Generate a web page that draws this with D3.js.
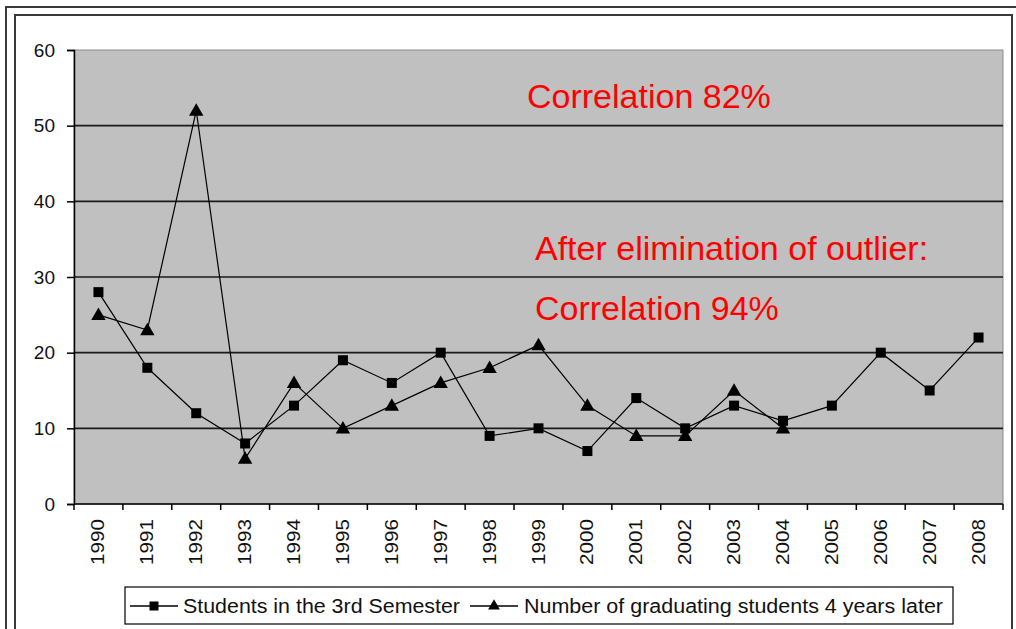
<!DOCTYPE html>
<html>
<head>
<meta charset="utf-8">
<script src="https://cdn.jsdelivr.net/npm/d3@7"></script>
<style>
  body { margin: 0; background: #fff; }
  svg { display: block; font-family: Arial, "Liberation Sans", sans-serif; }
</style>
</head>
<body>
<div id="chart"></div>
<script>
// Data
const years = ["1990", "1991", "1992", "1993", "1994", "1995", "1996", "1997", "1998", "1999",
  "2000", "2001", "2002", "2003", "2004", "2005", "2006", "2007", "2008"];
const students3rdSemester = [28, 18, 12, 8, 13, 19, 16, 20, 9, 10, 7, 14, 10, 13, 11, 13, 20, 15, 22];
const graduatesLater = [25, 23, 52, 6, 16, 10, 13, 16, 18, 21, 13, 9, 9, 15, 10];
const yTicks = [0, 10, 20, 30, 40, 50, 60];
const seriesNames = ["Students in the 3rd Semester", "Number of graduating students 4 years later"];
const notes = ["Correlation 82%", "After elimination of outlier:", "Correlation 94%"];

const width = 1016, height = 629;
const plot = { left: 74, right: 1003, top: 50, bottom: 504 };

const svg = d3.select("#chart")
  .append("svg")
  .attr("width", width)
  .attr("height", height);

// outer frame (double line)
svg.append("path")
  .attr("d", "M6,640 V7 H1030")
  .attr("fill", "none").attr("stroke", "#3a3a3a").attr("stroke-width", 2);
svg.append("path")
  .attr("d", "M15,640 V15 H1012 V640")
  .attr("fill", "none").attr("stroke", "#3a3a3a").attr("stroke-width", 2);

const x = d3.scaleBand().domain(years).range([plot.left, plot.right]).padding(0);
const y = d3.scaleLinear().domain([0, 60]).range([plot.bottom, plot.top]);
const cx = (d) => x(d) + x.bandwidth() / 2;

// plot area
svg.append("rect")
  .attr("x", plot.left).attr("y", plot.top)
  .attr("width", plot.right - plot.left).attr("height", plot.bottom - plot.top)
  .attr("fill", "#c0c0c0")
  .attr("stroke", "#8a8a8a").attr("stroke-width", 1);

// gridlines
svg.append("g")
  .selectAll("line")
  .data(yTicks.filter((d) => d > 0 && d < 60))
  .enter()
  .append("line")
  .attr("x1", plot.left).attr("x2", plot.right)
  .attr("y1", (d) => y(d)).attr("y2", (d) => y(d))
  .attr("stroke", "#1a1a1a").attr("stroke-width", 1.6);

// y axis
const yAxis = svg.append("g")
  .attr("transform", `translate(${plot.left},0)`)
  .call(d3.axisLeft(y).tickValues(yTicks).tickSize(7).tickPadding(12));
yAxis.select(".domain").attr("stroke", "#000").attr("stroke-width", 1.5);
yAxis.selectAll(".tick line").attr("stroke", "#000").attr("stroke-width", 1.5);
yAxis.selectAll("text")
  .attr("fill", "#111")
  .style("font-size", "19px")
  .style("font-family", "Arial, 'Liberation Sans', sans-serif");

// x axis with ticks at category boundaries
svg.append("line")
  .attr("x1", plot.left).attr("x2", plot.right)
  .attr("y1", plot.bottom).attr("y2", plot.bottom)
  .attr("stroke", "#000").attr("stroke-width", 1.5);
svg.append("g")
  .selectAll("line")
  .data(years.concat(["end"]))
  .enter()
  .append("line")
  .attr("x1", (d, i) => plot.left + i * x.bandwidth())
  .attr("x2", (d, i) => plot.left + i * x.bandwidth())
  .attr("y1", plot.bottom).attr("y2", plot.bottom + 6)
  .attr("stroke", "#000").attr("stroke-width", 1.5);
svg.append("g")
  .selectAll("text")
  .data(years)
  .enter()
  .append("text")
  .text((d) => d)
  .attr("transform", (d) => `translate(${cx(d) + 6},${plot.bottom + 15}) rotate(-90)`)
  .attr("text-anchor", "end")
  .attr("fill", "#111")
  .attr("textLength", 46)
  .attr("lengthAdjust", "spacingAndGlyphs")
  .style("font-size", "18px");

// series lines
const line = d3.line().x((d) => cx(d.year)).y((d) => y(d.value));
const s1 = years.map((yr, i) => ({ year: yr, value: students3rdSemester[i] }));
const s2 = graduatesLater.map((v, i) => ({ year: years[i], value: v }));

svg.append("path").datum(s1).attr("d", line)
  .attr("fill", "none").attr("stroke", "#000").attr("stroke-width", 1.2);
svg.append("path").datum(s2).attr("d", line)
  .attr("fill", "none").attr("stroke", "#000").attr("stroke-width", 1.2);

const sq = 10;
svg.append("g")
  .selectAll("rect")
  .data(s1)
  .enter()
  .append("rect")
  .attr("x", (d) => cx(d.year) - sq / 2)
  .attr("y", (d) => y(d.value) - sq / 2)
  .attr("width", sq).attr("height", sq)
  .attr("fill", "#000");

const tri = d3.symbol().type(d3.symbolTriangle).size(90);
svg.append("g")
  .selectAll("path")
  .data(s2)
  .enter()
  .append("path")
  .attr("d", tri)
  .attr("transform", (d) => `translate(${cx(d.year)},${y(d.value) + 1})`)
  .attr("fill", "#000");

// red annotations
const notePos = [
  { x: 527, y: 108 },
  { x: 535, y: 260 },
  { x: 535, y: 320 }
];
svg.append("g")
  .selectAll("text")
  .data(notes)
  .enter()
  .append("text")
  .text((d) => d)
  .attr("x", (d, i) => notePos[i].x)
  .attr("y", (d, i) => notePos[i].y)
  .attr("fill", "#ff0000")
  .style("font-size", "34px");

// legend
const legend = svg.append("g");
legend.append("rect")
  .attr("x", 125).attr("y", 587).attr("width", 828).attr("height", 37)
  .attr("fill", "#fff").attr("stroke", "#000").attr("stroke-width", 1.2);

const legendItems = [
  { name: seriesNames[0], lx: 130, tx: 183, tw: 277, marker: "square" },
  { name: seriesNames[1], lx: 470, tx: 524, tw: 419, marker: "triangle" }
];
const ly = 606;
legendItems.forEach((item) => {
  legend.append("line")
    .attr("x1", item.lx).attr("x2", item.lx + 48)
    .attr("y1", ly).attr("y2", ly)
    .attr("stroke", "#000").attr("stroke-width", 1.5);
  if (item.marker === "square") {
    legend.append("rect")
      .attr("x", item.lx + 24 - 4.5).attr("y", ly - 4.5)
      .attr("width", 9).attr("height", 9).attr("fill", "#000");
  } else {
    legend.append("path")
      .attr("d", d3.symbol().type(d3.symbolTriangle).size(60))
      .attr("transform", `translate(${item.lx + 24},${ly})`)
      .attr("fill", "#000");
  }
  legend.append("text")
    .text(item.name)
    .attr("x", item.tx).attr("y", ly + 7)
    .attr("fill", "#111")
    .attr("textLength", item.tw)
    .attr("lengthAdjust", "spacingAndGlyphs")
    .style("font-size", "20px");
});
</script>
</body>
</html>
